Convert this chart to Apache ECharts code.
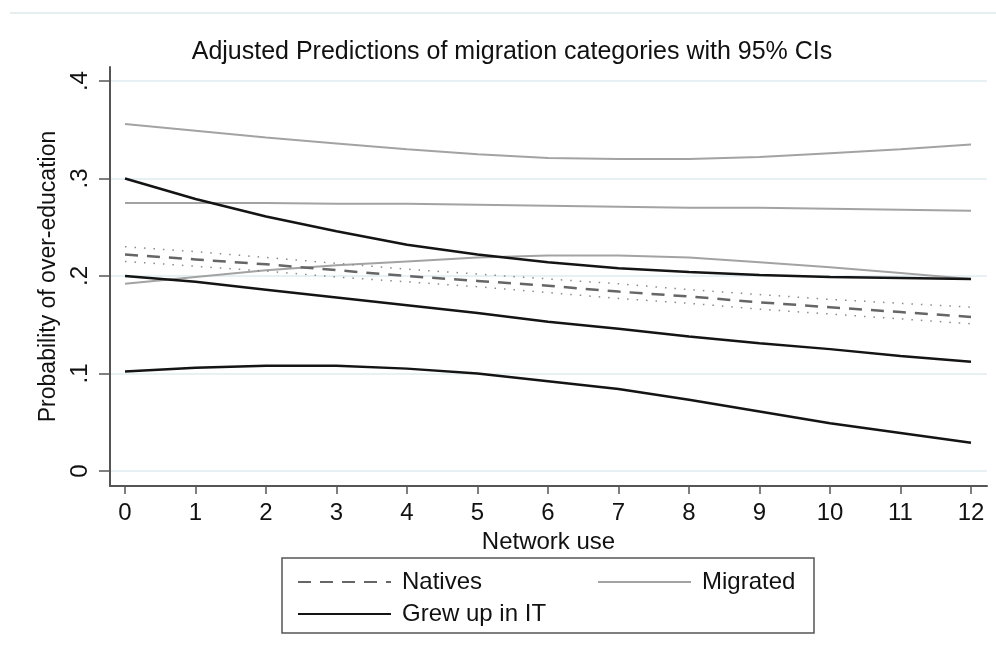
<!DOCTYPE html>
<html>
<head>
<meta charset="utf-8">
<title>Adjusted Predictions of migration categories</title>
<script src="https://cdn.jsdelivr.net/npm/echarts@6/dist/echarts.min.js"></script>
<style>
  html, body { margin: 0; padding: 0; background: #fff; }
  #chart { width: 996px; height: 653px; }
</style>
</head>
<body>
<div id="chart"></div>
<script>
// Network use levels (x) and tick labels
const networkUse = [0, 1, 2, 3, 4, 5, 6, 7, 8, 9, 10, 11, 12];
const yTicks = [0, 0.1, 0.2, 0.3, 0.4];

// Natives: prediction and 95% CI bounds
const natives   = [0.222, 0.217, 0.212, 0.206, 0.200, 0.195, 0.190, 0.184, 0.179, 0.173, 0.168, 0.163, 0.158];
const nativesHi = [0.230, 0.225, 0.219, 0.213, 0.207, 0.202, 0.197, 0.192, 0.186, 0.181, 0.176, 0.172, 0.168];
const nativesLo = [0.215, 0.210, 0.205, 0.199, 0.194, 0.189, 0.183, 0.177, 0.172, 0.166, 0.161, 0.156, 0.151];

// Migrated: prediction and 95% CI bounds
const migrated   = [0.275, 0.275, 0.275, 0.274, 0.274, 0.273, 0.272, 0.271, 0.270, 0.270, 0.269, 0.268, 0.267];
const migratedHi = [0.356, 0.349, 0.342, 0.336, 0.330, 0.325, 0.321, 0.320, 0.320, 0.322, 0.326, 0.330, 0.335];
const migratedLo = [0.192, 0.199, 0.206, 0.211, 0.215, 0.219, 0.221, 0.221, 0.219, 0.214, 0.209, 0.203, 0.197];

// Grew up in IT: prediction and 95% CI bounds
const grewUp   = [0.200, 0.194, 0.186, 0.178, 0.170, 0.162, 0.153, 0.146, 0.138, 0.131, 0.125, 0.118, 0.112];
const grewUpHi = [0.300, 0.279, 0.261, 0.246, 0.232, 0.222, 0.214, 0.208, 0.204, 0.201, 0.199, 0.198, 0.197];
const grewUpLo = [0.102, 0.106, 0.108, 0.108, 0.105, 0.100, 0.092, 0.084, 0.073, 0.061, 0.049, 0.039, 0.029];

const pairs = ys => networkUse.map((x, i) => [x, ys[i]]);

const BLACK = '#141414';
const GREY = '#a3a3a3';
const DASH_GREY = '#666666';
const DOT_GREY = '#8a8a8a';
const AXIS = '#555555';
const TEXT = '#111111';
const FONT = 'Liberation Sans, Arial, sans-serif';

function lineSeries(name, data, color, width, type) {
  return {
    name: name,
    type: 'line',
    data: pairs(data),
    symbol: 'none',
    showSymbol: false,
    silent: true,
    color: color,
    lineStyle: { color: color, width: width, type: type },
    emphasis: { disabled: true }
  };
}

// one legend block per key, so each sits in its own slot of the boxed key
function legendAt(name, left, top) {
  return {
    data: [name],
    left: left,
    top: top,
    orient: 'horizontal',
    itemWidth: 93,
    itemHeight: 14,
    selectedMode: false,
    itemStyle: { opacity: 0 },
    textStyle: { fontFamily: FONT, fontSize: 24, color: TEXT, padding: [0, 0, 0, 6] }
  };
}

const chart = echarts.init(document.getElementById('chart'), null, { renderer: 'canvas' });

chart.setOption({
  animation: false,
  backgroundColor: '#ffffff',
  textStyle: { fontFamily: FONT },
  grid: { left: 110, right: 9, top: 67, bottom: 167, containLabel: false },
  xAxis: {
    type: 'value',
    min: -0.213,
    max: 12.227,
    name: 'Network use',
    nameLocation: 'middle',
    nameGap: 33,
    nameTextStyle: { fontFamily: FONT, fontSize: 24, color: TEXT },
    axisLine: { onZero: false, lineStyle: { color: AXIS, width: 2 } },
    axisTick: { show: true, length: 8, customValues: networkUse, lineStyle: { color: AXIS, width: 1.5 } },
    axisLabel: {
      customValues: networkUse,
      fontFamily: FONT, fontSize: 24, color: TEXT, margin: 15,
      formatter: v => String(Math.round(v))
    },
    splitLine: { show: false }
  },
  yAxis: {
    type: 'value',
    min: -0.0154,
    max: 0.4144,
    name: 'Probability of over-education',
    nameLocation: 'middle',
    nameGap: 44,
    nameTextStyle: { fontFamily: FONT, fontSize: 23, color: TEXT },
    axisLine: { onZero: false, lineStyle: { color: AXIS, width: 2 } },
    axisTick: { show: true, length: 11, customValues: yTicks, lineStyle: { color: AXIS, width: 1.5 } },
    axisLabel: {
      customValues: yTicks,
      rotate: 90,
      fontFamily: FONT, fontSize: 24, color: TEXT, margin: 18,
      formatter: v => (Math.abs(v) < 1e-9 ? '0' : v.toFixed(1).replace(/^0\./, '.'))
    },
    splitLine: { show: true, lineStyle: { color: '#e7f0f2', width: 2 } }
  },
  legend: [
    legendAt('Natives', 292, 565),
    legendAt('Migrated', 592, 565),
    legendAt('Grew up in IT', 292, 597)
  ],
  graphic: [
    {
      type: 'line',
      shape: { x1: 10, y1: 13, x2: 996, y2: 13 },
      style: { stroke: '#e6eef0', lineWidth: 2 },
      silent: true
    },
    {
      type: 'text',
      x: 512,
      y: 52,
      style: {
        text: 'Adjusted Predictions of migration categories with 95% CIs',
        font: '25px ' + FONT,
        fill: TEXT,
        textAlign: 'center',
        textVerticalAlign: 'middle'
      },
      silent: true
    },
    {
      type: 'rect',
      shape: { x: 282, y: 558, width: 532, height: 75 },
      style: { fill: 'none', stroke: '#555555', lineWidth: 1.5 },
      silent: true,
      z: -1
    }
  ],
  series: [
    lineSeries('Migrated upper', migratedHi, GREY, 2, 'solid'),
    lineSeries('Migrated', migrated, GREY, 2, 'solid'),
    lineSeries('Migrated lower', migratedLo, GREY, 2, 'solid'),
    lineSeries('Grew up upper', grewUpHi, BLACK, 2.5, 'solid'),
    lineSeries('Grew up in IT', grewUp, BLACK, 2.5, 'solid'),
    lineSeries('Grew up lower', grewUpLo, BLACK, 2.5, 'solid'),
    lineSeries('Natives upper', nativesHi, DOT_GREY, 1.5, [1.5, 8]),
    lineSeries('Natives', natives, DASH_GREY, 2.5, [13, 9]),
    lineSeries('Natives lower', nativesLo, DOT_GREY, 1.5, [1.5, 8])
  ]
});
</script>
</body>
</html>
